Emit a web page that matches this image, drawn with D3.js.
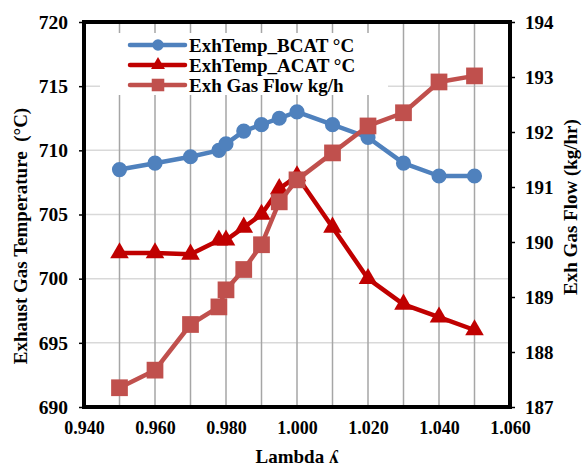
<!DOCTYPE html>
<html>
<head>
<meta charset="utf-8">
<script src="https://cdn.jsdelivr.net/npm/d3@7"></script>
<style>
  html, body { margin: 0; padding: 0; background: #fff; }
  svg { display: block; }
  text { font-family: "Liberation Serif", "Times New Roman", serif; font-weight: bold; fill: #000; }
</style>
</head>
<body>
<svg id="chart" width="583" height="466"></svg>
<script>
// Lambda values (x) and the three measured series
const lambda   = [0.950, 0.960, 0.970, 0.978, 0.980, 0.985, 0.990, 0.995, 1.000, 1.010, 1.020, 1.030, 1.040, 1.050];
const tempBCAT = [708.5, 709.0, 709.5, 710.0, 710.5, 711.5, 712.0, 712.5, 713.0, 712.0, 711.0, 709.0, 708.0, 708.0];
const tempACAT = [702.0, 702.0, 701.9, 703.0, 703.0, 704.0, 705.0, 707.0, 708.0, 704.0, 700.0, 698.0, 697.0, 696.0];
const gasFlow  = [187.35, 187.67, 188.5, 188.82, 189.13, 189.5, 189.95, 190.73, 191.13, 191.62, 192.11, 192.35, 192.91, 193.02];

const xTicks      = [0.940, 0.950, 0.960, 0.970, 0.980, 0.990, 1.000, 1.010, 1.020, 1.030, 1.040, 1.050, 1.060];
const xTickLabels = ["0.940", "0.960", "0.980", "1.000", "1.020", "1.040", "1.060"];
const leftTicks   = [690, 695, 700, 705, 710, 715, 720];
const rightTicks  = [187, 188, 189, 190, 191, 192, 193, 194];

const seriesNames = ["ExhTemp_BCAT °C", "ExhTemp_ACAT °C", "Exh Gas Flow kg/h"];
const colors = ["#4f81bd", "#c00000", "#c0504d"];

const svg = d3.select("#chart");
const L = 84, R = 510, T = 22, B = 407;

const x  = d3.scaleLinear().domain([0.940, 1.060]).range([L, R]);
const yL = d3.scaleLinear().domain([690, 720]).range([B, T]);
const yR = d3.scaleLinear().domain([187, 194]).range([B, T]);

// gridlines
const grid = svg.append("g");
grid.selectAll("line.h").data(leftTicks).join("line")
  .attr("x1", L).attr("x2", R)
  .attr("y1", d => yL(d)).attr("y2", d => yL(d))
  .attr("stroke", "#d9d9d9").attr("stroke-width", 1.5);
grid.selectAll("line.v").data(xTicks).join("line")
  .attr("x1", d => x(d)).attr("x2", d => x(d))
  .attr("y1", T).attr("y2", B)
  .attr("stroke", "#a6a6a6").attr("stroke-width", 1.5);

// legend background (hides gridlines behind it)
svg.append("rect").attr("x", 100).attr("y", 33).attr("width", 288).attr("height", 62).attr("fill", "#fff");

// axes
const axL = d3.axisLeft(yL).tickValues(leftTicks).tickSize(5).tickPadding(11).tickFormat(d3.format("d"));
const axR = d3.axisRight(yR).tickValues(rightTicks).tickSize(5).tickPadding(10).tickFormat(d3.format("d"));
const axB = d3.axisBottom(x).tickValues(xTickLabels.map(Number)).tickSize(0).tickPadding(14).tickFormat(d3.format(".3f"));

function styleAxis(size) {
  return g => {
    g.select(".domain").remove();
    g.selectAll(".tick line").attr("stroke", "#000").attr("stroke-width", 1.5);
    g.selectAll(".tick text").style("font-size", size + "px").style("font-family", "Liberation Serif")
      .style("font-weight", "bold").attr("fill", "#000");
  };
}
svg.append("g").attr("transform", `translate(${L},0)`).call(axL).call(styleAxis(19.5));
svg.append("g").attr("transform", `translate(${R},0)`).call(axR).call(styleAxis(19));
svg.append("g").attr("transform", `translate(0,${B})`).call(axB).call(styleAxis(18));

// frame
svg.append("line").attr("x1", L).attr("x2", R + 2).attr("y1", T).attr("y2", T).attr("stroke", "#000").attr("stroke-width", 4);
svg.append("line").attr("x1", L).attr("x2", R + 2).attr("y1", B).attr("y2", B).attr("stroke", "#000").attr("stroke-width", 4);
svg.append("line").attr("x1", L).attr("x2", L).attr("y1", T - 2).attr("y2", B + 2).attr("stroke", "#000").attr("stroke-width", 4);
svg.append("line").attr("x1", R).attr("x2", R).attr("y1", T - 2).attr("y2", B + 2).attr("stroke", "#000").attr("stroke-width", 4);

// series
const series = [
  { vals: tempBCAT, y: yL, color: colors[0], marker: "circle" },
  { vals: tempACAT, y: yL, color: colors[1], marker: "triangle" },
  { vals: gasFlow,  y: yR, color: colors[2], marker: "square" }
];
const symbolFor = {
  circle: d3.symbol().type(d3.symbolCircle).size(180),
  triangle: d3.symbol().type(d3.symbolTriangle).size(150),
  square: d3.symbol().type(d3.symbolSquare).size(280)
};

series.forEach(s => {
  const pts = lambda.map((l, i) => [x(l), s.y(s.vals[i])]);
  const g = svg.append("g");
  g.append("path").attr("d", d3.line()(pts))
    .attr("fill", "none").attr("stroke", s.color).attr("stroke-width", 4.5).attr("stroke-linejoin", "round");
  g.selectAll("path.m").data(pts).join("path")
    .attr("d", symbolFor[s.marker])
    .attr("transform", d => `translate(${d[0]},${d[1]})`)
    .attr("fill", s.color);
});

// legend
const lg = svg.append("g");
seriesNames.forEach((name, i) => {
  const yy = 45 + i * 20;
  lg.append("line").attr("x1", 130).attr("x2", 185).attr("y1", yy).attr("y2", yy)
    .attr("stroke", colors[i]).attr("stroke-width", 4.5).attr("stroke-linecap", "round");
  lg.append("path").attr("d", symbolFor[series[i].marker])
    .attr("transform", `translate(158,${yy}) scale(0.75)`).attr("fill", colors[i]);
  lg.append("text").attr("x", 189).attr("y", yy).attr("dy", "0.35em")
    .style("font-size", "19px").text(name);
});

// axis titles
svg.append("text").attr("transform", "translate(27,236) rotate(-90)")
  .attr("text-anchor", "middle").style("font-size", "19px").attr("xml:space", "preserve")
  .text("Exhaust Gas Temperature  (°C)");
svg.append("text").attr("transform", "translate(577,207) rotate(-90)")
  .attr("text-anchor", "middle").style("font-size", "19px")
  .text("Exh Gas Flow (kg/hr)");
svg.append("text").attr("x", 297).attr("y", 463)
  .attr("text-anchor", "middle").style("font-size", "19px")
  .text("Lambda ʎ");
</script>
</body>
</html>
